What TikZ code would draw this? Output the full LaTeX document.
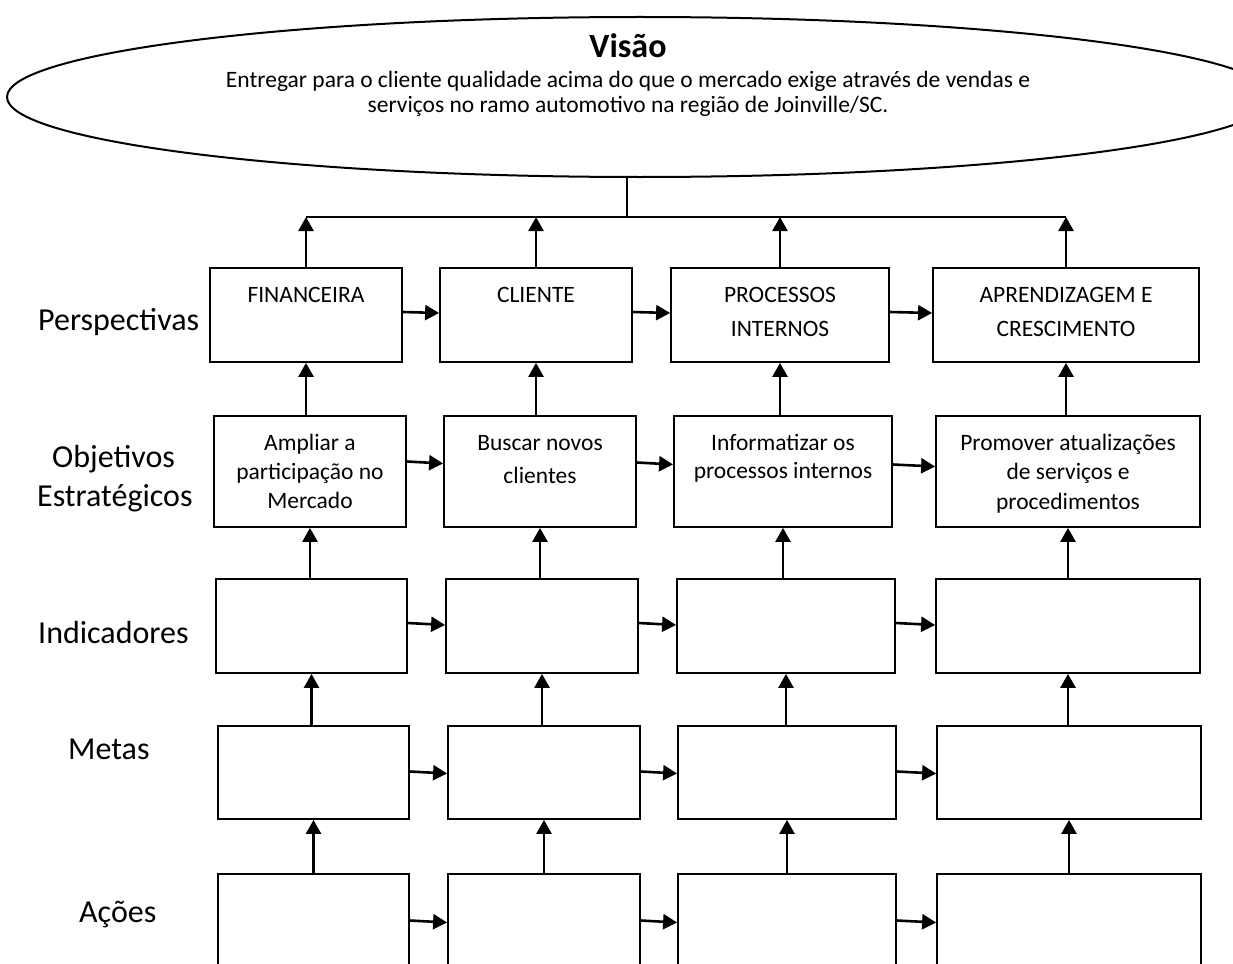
\documentclass[tikz,border=0pt]{standalone}
\usepackage{fontspec}
\setmainfont{Carlito}
\usetikzlibrary{arrows.meta,shapes.geometric}
\newcommand{\ptext}[2]{\parbox[t]{300pt}{\centering\fontsize{23.5}{#1}\selectfont #2}}
\begin{document}
\begin{tikzpicture}[x=1pt,y=-1pt,
  box/.style={draw, line width=1.8pt, inner sep=0pt},
  arr/.style={line width=2.6pt, -{Triangle[length=14pt,width=15pt]}},
  lbl/.style={font=\fontsize{32}{38}\selectfont, anchor=base west, inner sep=0pt},
  txt/.style={anchor=base, inner sep=0pt}]
\useasboundingbox (0,0) rectangle (1233,963);
\clip (0,0) rectangle (1233,963);
\fill[white] (0,0) rectangle (1233,963);

% vision ellipse
\node[ellipse, draw, line width=2pt, minimum width=1266pt, minimum height=160pt, inner sep=0pt] (vision) at (640,97) {};
\node[txt, font=\bfseries\fontsize{34}{40}\selectfont] (vtitle) at (628,58) {Visão};
\node[txt] (vtext) at (628,88) {\parbox[t]{900pt}{\centering\fontsize{23.5}{25}\selectfont Entregar para o cliente qualidade acima do que o mercado exige através de vendas e\\ serviços no ramo automotivo na região de Joinville/SC.}};

% row labels
\node[lbl] (l1) at (38,330) {Perspectivas};
\node[lbl] (l2a) at (52,467) {Objetivos};
\node[lbl] (l2b) at (37,506) {Estratégicos};
\node[lbl] (l3) at (38,643) {Indicadores};
\node[lbl] (l4) at (68,759) {Metas};
\node[lbl] (l5) at (79,922) {Ações};

% row 1
\node[box, minimum width=192pt, minimum height=94pt] (A1) at (306,315) {};
\node[box, minimum width=192pt, minimum height=94pt] (B1) at (536,315) {};
\node[box, minimum width=218pt, minimum height=94pt] (C1) at (780,315) {};
\node[box, minimum width=266pt, minimum height=94pt] (D1) at (1066,315) {};
\node[txt] (tA1) at (306,302) {\ptext{34}{FINANCEIRA}};
\node[txt] (tB1) at (536,302) {\ptext{34}{CLIENTE}};
\node[txt] (tC1) at (780,302) {\ptext{34}{PROCESSOS\\INTERNOS}};
\node[txt] (tD1) at (1066,302) {\ptext{34}{APRENDIZAGEM E\\CRESCIMENTO}};

% row 2
\node[box, minimum width=192pt, minimum height=111pt] (A2) at (310,471.5) {};
\node[box, minimum width=192pt, minimum height=111pt] (B2) at (540,471.5) {};
\node[box, minimum width=218pt, minimum height=111pt] (C2) at (783,471.5) {};
\node[box, minimum width=264pt, minimum height=111pt] (D2) at (1068,471.5) {};
\node[txt] (tA2) at (310,450) {\ptext{29}{Ampliar a\\participação no\\Mercado}};
\node[txt] (tB2) at (540,450) {\ptext{33}{Buscar novos\\clientes}};
\node[txt] (tC2) at (783,450) {\ptext{28}{Informatizar os\\processos internos}};
\node[txt] (tD2) at (1068,450) {\ptext{29.5}{Promover atualizações\\de serviços e\\procedimentos}};

% row 3
\node[box, minimum width=191pt, minimum height=94pt] (A3) at (311.5,626) {};
\node[box, minimum width=192pt, minimum height=94pt] (B3) at (542,626) {};
\node[box, minimum width=218pt, minimum height=94pt] (C3) at (786,626) {};
\node[box, minimum width=264pt, minimum height=94pt] (D3) at (1068,626) {};

% row 4
\node[box, minimum width=191pt, minimum height=93pt] (A4) at (313.5,772.5) {};
\node[box, minimum width=192pt, minimum height=93pt] (B4) at (544,772.5) {};
\node[box, minimum width=218pt, minimum height=93pt] (C4) at (787,772.5) {};
\node[box, minimum width=264pt, minimum height=93pt] (D4) at (1069,772.5) {};

% row 5
\node[box, minimum width=191pt, minimum height=100pt] (A5) at (313.5,924) {};
\node[box, minimum width=192pt, minimum height=100pt] (B5) at (544,924) {};
\node[box, minimum width=218pt, minimum height=100pt] (C5) at (787,924) {};
\node[box, minimum width=264pt, minimum height=100pt] (D5) at (1069,924) {};

% connection to vision
\coordinate (hub) at (627,217);
\draw[line width=1.5pt] (vision.south -| hub) -- (hub);
\draw[line width=1.8pt] (A1.north |- hub) -- (D1.north |- hub);
\foreach \n in {A1,B1,C1,D1} {\draw[arr] (\n.north) -- (\n.north |- hub);}

% vertical arrows
\foreach \c in {A,B,C,D} {
  \draw[arr] (\c1.south |- \c2.north) -- (\c1.south);
  \draw[arr] (\c2.south |- \c3.north) -- (\c2.south);
  \draw[arr] (\c3.south |- \c4.north) -- (\c3.south);
  \draw[arr] (\c4.south |- \c5.north) -- (\c4.south);
}

% horizontal arrows
\draw[arr] ([yshift=3pt]A1.east) -- ([yshift=2pt]B1.west);
\draw[arr] ([yshift=3pt]B1.east) -- ([yshift=2pt]C1.west);
\draw[arr] ([yshift=3pt]C1.east) -- ([yshift=2pt]D1.west);
\draw[arr] ([yshift=10pt]A2.east) -- ([yshift=8pt]B2.west);
\draw[arr] ([yshift=9pt]B2.east) -- ([yshift=7pt]C2.west);
\draw[arr] ([yshift=7pt]C2.east) -- ([yshift=5pt]D2.west);
\draw[arr] ([yshift=3pt]A3.east) -- ([yshift=1pt]B3.west);
\draw[arr] ([yshift=3pt]B3.east) -- ([yshift=1pt]C3.west);
\draw[arr] ([yshift=3pt]C3.east) -- ([yshift=1pt]D3.west);
\draw[arr] ([yshift=1pt]A4.east) -- ([yshift=-1pt]B4.west);
\draw[arr] ([yshift=1pt]B4.east) -- ([yshift=-1pt]C4.west);
\draw[arr] ([yshift=1pt]C4.east) -- ([yshift=-1pt]D4.west);
\draw[arr] ([yshift=3.5pt]A5.east) -- ([yshift=1.5pt]B5.west);
\draw[arr] ([yshift=3.5pt]B5.east) -- ([yshift=1.5pt]C5.west);
\draw[arr] ([yshift=3.5pt]C5.east) -- ([yshift=1.5pt]D5.west);
\end{tikzpicture}
\end{document}
